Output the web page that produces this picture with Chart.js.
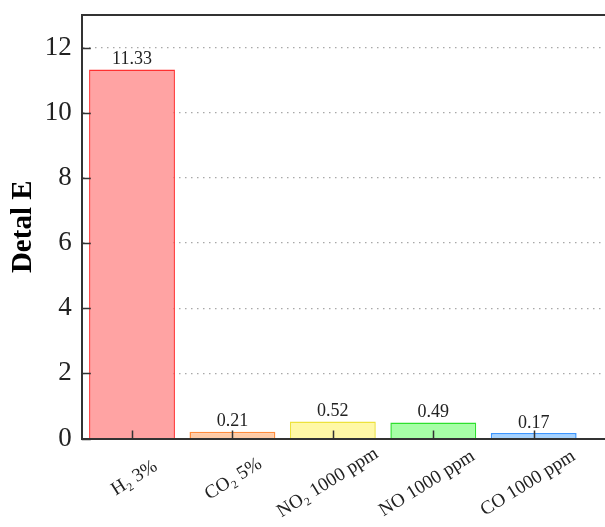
<!DOCTYPE html>
<html>
<head>
<meta charset="utf-8">
<script src="https://cdn.jsdelivr.net/npm/chart.js@4/dist/chart.umd.min.js"></script>
<style>
  html, body { margin: 0; padding: 0; background: #fff; overflow: hidden; }
  #wrap { width: 605px; height: 527px; position: relative; }
</style>
</head>
<body>
<div id="wrap"><canvas id="c"></canvas></div>
<script>
const categories = ['H\u2082 3%', 'CO\u2082 5%', 'NO\u2082 1000 ppm', 'NO 1000 ppm', 'CO 1000 ppm'];
const values = [11.33, 0.21, 0.52, 0.49, 0.17];
const valueLabels = ['11.33', '0.21', '0.52', '0.49', '0.17'];
const yTicks = [0, 2, 4, 6, 8, 10, 12];
const fillColors = ['#FFA3A3', '#FFCBA6', '#FFF8A6', '#A6FFA6', '#A6D3FF'];
const edgeColors = ['#FF3030', '#FF8C3C', '#EDE23C', '#2EE02E', '#3C96FF'];

const SERIF = "'Liberation Serif', 'Times New Roman', serif";
const X_FONT = 19;
const ROT = 32;

// pad shorter labels with trailing spaces so the rotated labels sit roughly centred under their ticks
const measureCtx = document.createElement('canvas').getContext('2d');
measureCtx.font = X_FONT + 'px ' + SERIF;
const labelWidths = categories.map(s => measureCtx.measureText(s).width);
const maxLabelWidth = Math.max(...labelWidths);
const spaceWidth = measureCtx.measureText(' ').width;
const paddedLabels = categories.map((s, i) => s + ' '.repeat(Math.round((maxLabelWidth - labelWidths[i]) * 0.4 / spaceWidth)));
const labelShift = maxLabelWidth / 2 * Math.cos(ROT * Math.PI / 180) - 5;

const valueLabelPlugin = {
  id: 'valueLabels',
  afterDatasetsDraw(chart) {
    const ctx = chart.ctx;
    const meta = chart.getDatasetMeta(0);
    ctx.save();
    ctx.font = '18px ' + SERIF;
    ctx.fillStyle = '#222';
    ctx.textAlign = 'center';
    ctx.textBaseline = 'bottom';
    meta.data.forEach((bar, i) => {
      ctx.fillText(valueLabels[i], bar.x, bar.y - 1);
    });
    ctx.restore();
  }
};

const innerTickPlugin = {
  id: 'innerTicks',
  afterDatasetsDraw(chart) {
    const ctx = chart.ctx;
    const xs = chart.scales.x, ys = chart.scales.y;
    const area = chart.chartArea;
    ctx.save();
    ctx.strokeStyle = '#333';
    ctx.lineWidth = 1.5;
    ctx.beginPath();
    ys.ticks.forEach((t, i) => {
      const y = Math.round(ys.getPixelForTick(i)) + 0.5;
      ctx.moveTo(area.left, y);
      ctx.lineTo(area.left + 9, y);
    });
    xs.ticks.forEach((t, i) => {
      const x = Math.round(xs.getPixelForTick(i)) + 0.5;
      ctx.moveTo(x, area.bottom);
      ctx.lineTo(x, area.bottom - 8);
    });
    ctx.stroke();
    ctx.restore();
  }
};

new Chart(document.getElementById('c'), {
  type: 'bar',
  data: {
    datasets: [{
      data: values.map((v, i) => ({ x: i, y: v })),
      backgroundColor: fillColors,
      borderColor: edgeColors,
      borderWidth: 1.5,
      categoryPercentage: 1,
      barPercentage: 0.855
    }]
  },
  options: {
    responsive: true,
    maintainAspectRatio: false,
    animation: false,
    layout: { padding: { left: 0, top: 15, right: 0, bottom: 0 } },
    plugins: { legend: { display: false }, tooltip: { enabled: false } },
    scales: {
      x: {
        type: 'linear',
        min: -0.5,
        max: 4.71,
        offset: false,
        grid: { display: false, drawTicks: false },
        border: { display: true, color: '#333', width: 2 },
        ticks: {
          stepSize: 1,
          includeBounds: false,
          autoSkip: false,
          minRotation: ROT,
          maxRotation: ROT,
          labelOffset: labelShift,
          padding: 4,
          color: '#222',
          font: { family: SERIF, size: X_FONT },
          callback: (v) => (Number.isInteger(v) && paddedLabels[v] !== undefined) ? paddedLabels[v] : ''
        }
      },
      xTop: {
        type: 'linear',
        position: 'top',
        min: -0.5,
        max: 4.71,
        grid: { display: false, drawTicks: false },
        border: { display: true, color: '#333', width: 2 },
        ticks: { display: false }
      },
      y: {
        min: 0,
        max: 13,
        afterBuildTicks: (scale) => { scale.ticks = yTicks.map(v => ({ value: v })); },
        afterFit: (scale) => { scale.paddingTop = 0; },
        grid: { color: '#a8a8a8', lineWidth: 1.2, drawTicks: false },
        border: { display: true, color: '#333', width: 2, dash: [1.5, 4.5] },
        ticks: {
          padding: 10,
          color: '#222',
          font: { family: SERIF, size: 27 }
        },
        title: {
          display: true,
          text: 'Detal E',
          color: '#000',
          padding: { top: 6, bottom: -6 },
          font: { family: SERIF, size: 29, weight: 'bold' }
        }
      }
    }
  },
  plugins: [valueLabelPlugin, innerTickPlugin]
});
</script>
</body>
</html>
